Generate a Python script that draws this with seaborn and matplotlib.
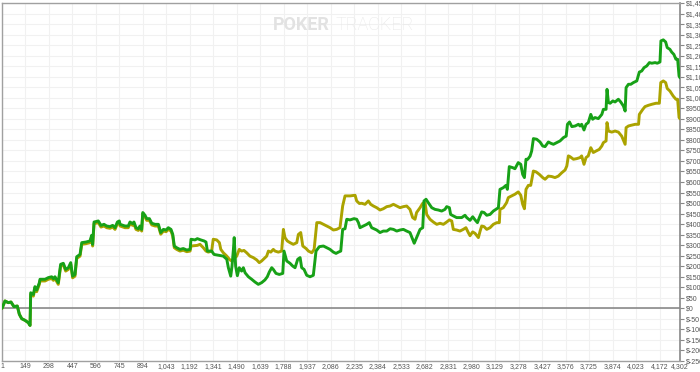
import matplotlib
matplotlib.use("Agg")
import matplotlib.pyplot as plt
import seaborn as sns
import pandas as pd

# ---------------- data ----------------
green_hands = [1, 20, 41, 58, 77, 98, 111, 126, 147, 168, 179,
               183, 200, 210, 221, 238, 242, 274, 295, 316, 327, 337, 358, 373, 390, 405,
               422, 437, 449, 464, 475, 496, 507, 534, 559, 570, 576, 585, 612, 629, 648,
               665, 686, 703, 718, 733, 745, 750, 781, 802, 813, 830, 838, 851, 866, 876,
               887, 894, 908, 919, 936, 951, 972, 993, 1008, 1025, 1042, 1056, 1073, 1084, 1094,
               1109, 1130, 1151, 1173, 1194,
               1200, 1225, 1240, 1262, 1283, 1295, 1304, 1331, 1346, 1374, 1405, 1427, 1437, 1452,
               1460, 1469, 1474, 1483, 1494, 1506, 1521, 1532, 1543, 1564, 1585, 1606, 1627, 1648,
               1669, 1684, 1697, 1712, 1722, 1739, 1760, 1782, 1790, 1807, 1828, 1845, 1860, 1877,
               1892, 1902, 1917, 1934, 1955, 1976, 1993, 2014, 2040, 2061, 2082, 2103, 2120, 2135,
               2150, 2162, 2177, 2188, 2209, 2234, 2251, 2262, 2272, 2293, 2315, 2331, 2346, 2361,
               2378, 2399, 2420, 2442, 2463, 2484, 2505, 2526, 2547, 2568, 2589, 2606, 2616, 2631,
               2653, 2670, 2678, 2691, 2705, 2727, 2748, 2769, 2790, 2811, 2822, 2839, 2847, 2864,
               2885, 2917, 2938, 2949, 2970, 2987, 3002, 3017, 3029, 3044, 3059, 3076, 3097, 3118,
               3140, 3150, 3160, 3181, 3198, 3207, 3219, 3241, 3255, 3276, 3292, 3304, 3315, 3325,
               3336, 3351, 3361, 3372, 3393, 3414, 3431, 3446, 3467, 3482, 3499, 3520, 3541, 3563,
               3580, 3588, 3601, 3616, 3637, 3658, 3668, 3678, 3693, 3706, 3720, 3736, 3748, 3763,
               3784, 3806, 3816, 3833, 3839, 3848, 3859, 3876, 3890, 3911, 3926, 3943, 3954, 3960,
               3975, 3990, 4006, 4028, 4044, 4059, 4074, 4091, 4108, 4123, 4144, 4158, 4175, 4181,
               4196, 4211, 4221, 4238, 4249, 4263, 4276, 4287, 4296, 4302]
green_won = [0, 35, 27, 30, 8, 11, -28, -49, -57, -68, -81,
             74, 66, 103, 87, 122, 138, 138, 146, 150, 141, 150, 122, 209, 214, 185,
             193, 217, 153, 161, 245, 256, 312, 315, 320, 347, 304, 410, 415, 394, 399,
             391, 388, 394, 383, 410, 415, 399, 391, 391, 410, 402, 410, 383, 378, 391,
             375, 455, 442, 426, 426, 404, 399, 399, 360, 375, 372, 383, 375, 352, 296,
             288, 280, 284, 277, 280,
             328, 325, 331, 325, 320, 315, 272, 272, 256, 252, 248, 233, 193, 153,
             200, 280, 336, 201, 155, 193, 177, 193, 169, 150, 138, 125, 114, 122,
             135, 150, 173, 193, 185, 166, 161, 166, 272, 225, 214, 201, 193, 233,
             241, 193, 185, 157, 150, 157, 272, 293, 296, 288, 280, 267, 261, 267,
             272, 375, 378, 423, 420, 426, 423, 407, 383, 391, 399, 407, 383, 378,
             372, 360, 367, 367, 378, 375, 367, 372, 375, 367, 360, 328, 309, 336,
             375, 383, 510, 518, 502, 478, 470, 467, 462, 470, 483, 478, 446, 439,
             431, 431, 442, 431, 418, 435, 420, 407, 431, 458, 455, 442, 446, 462,
             473, 478, 565, 573, 584, 565, 673, 668, 663, 692, 684, 636, 621, 708,
             708, 723, 747, 806, 803, 790, 771, 768, 790, 784, 779, 787, 795, 811,
             818, 874, 885, 863, 866, 874, 866, 874, 847, 874, 882, 921, 898, 906,
             901, 921, 945, 945, 1040, 977, 974, 985, 980, 993, 980, 961, 937, 1048,
             1064, 1064, 1072, 1080, 1122, 1127, 1143, 1151, 1167, 1164, 1167, 1164, 1170, 1270,
             1275, 1265, 1238, 1230, 1217, 1206, 1183, 1183, 1103, 1095]

olive_hands = [1, 20, 41, 58, 77, 98, 111, 126, 147, 168, 179,
               183, 200, 210, 221, 238, 242, 274, 295, 316, 327, 337, 358, 373, 390, 405,
               422, 437, 449, 464, 475, 496, 507, 534, 559, 570, 576, 585, 612, 629, 648,
               665, 686, 703, 718, 733, 745, 750, 781, 802, 813, 830, 838, 851, 866, 876,
               887, 894, 908, 919, 936, 951, 972, 993, 1008, 1025, 1042, 1056, 1073, 1084, 1094,
               1109, 1130, 1151, 1173, 1194,
               1200, 1240, 1257, 1278, 1295, 1310, 1331, 1341, 1363, 1380, 1389, 1405, 1427, 1447,
               1458, 1469, 1479, 1490, 1506, 1521, 1536, 1553, 1574, 1595, 1617, 1633, 1648, 1659,
               1680, 1691, 1706, 1722, 1733, 1754, 1775, 1786, 1796, 1811, 1828, 1849, 1871, 1881,
               1896, 1909, 1930, 1945, 1966, 1981, 1998, 2019, 2040, 2061, 2082, 2103, 2124, 2145,
               2162, 2177, 2209, 2241, 2251, 2268, 2283, 2304, 2325, 2340, 2357, 2378, 2399, 2420,
               2442, 2463, 2484, 2505, 2526, 2547, 2568, 2589, 2606, 2621, 2631, 2653, 2670, 2685,
               2695, 2716, 2737, 2759, 2780, 2801, 2822, 2839, 2854, 2864, 2885, 2906, 2927, 2944,
               2959, 2970, 2987, 3002, 3023, 3034, 3044, 3059, 3076, 3097, 3118, 3140, 3156, 3160,
               3181, 3202, 3213, 3234, 3255, 3276, 3292, 3304, 3315, 3325, 3340, 3355, 3372, 3389,
               3410, 3431, 3446, 3467, 3488, 3509, 3530, 3552, 3573, 3584, 3594, 3605, 3626, 3647,
               3668, 3678, 3693, 3706, 3720, 3736, 3752, 3769, 3790, 3806, 3816, 3833, 3839, 3848,
               3869, 3890, 3911, 3932, 3948, 3954, 3960, 3975, 3990, 4018, 4039, 4044, 4066, 4080,
               4101, 4123, 4150, 4171, 4180, 4196, 4211, 4221, 4238, 4259, 4276, 4287, 4296, 4302]
olive_won = [0, 35, 27, 30, 8, 11, -28, -49, -57, -68, -81,
             66, 58, 95, 79, 114, 130, 130, 138, 142, 133, 142, 114, 201, 206, 177,
             185, 209, 145, 153, 237, 248, 304, 307, 312, 339, 296, 402, 407, 386, 391,
             383, 380, 386, 375, 402, 407, 391, 383, 383, 402, 394, 402, 375, 370, 383,
             367, 447, 434, 418, 418, 396, 391, 391, 352, 367, 364, 375, 367, 344, 288,
             280, 272, 276, 269, 272,
             296, 299, 304, 288, 272, 267, 272, 328, 325, 312, 280, 264, 248, 230,
             225, 233, 241, 248, 280, 272, 275, 264, 248, 241, 230, 217, 225, 233,
             248, 272, 267, 280, 272, 267, 272, 375, 336, 320, 312, 304, 312, 351,
             360, 296, 284, 272, 264, 280, 407, 407, 399, 391, 383, 372, 375, 383,
             486, 534, 534, 537, 510, 498, 499, 494, 510, 494, 486, 478, 467, 473,
             483, 486, 494, 486, 478, 483, 486, 470, 431, 423, 455, 478, 499, 502,
             446, 423, 410, 399, 404, 399, 410, 420, 415, 375, 372, 367, 375, 383,
             360, 345, 363, 356, 336, 367, 391, 388, 375, 383, 399, 407, 407, 470,
             478, 502, 526, 534, 542, 553, 537, 494, 473, 565, 584, 584, 652, 648,
             636, 621, 613, 628, 626, 621, 628, 644, 657, 676, 724, 720, 708, 711,
             716, 724, 684, 716, 724, 763, 740, 747, 755, 771, 787, 795, 882, 842,
             837, 842, 837, 818, 790, 779, 858, 866, 869, 874, 874, 921, 945, 958,
             964, 969, 974, 974, 1072, 1080, 1072, 1044, 1032, 1008, 993, 993, 906, 900]

series_names = ["Net Won", "All-in EV"]
series_colors = ["#17a117", "#aba300"]

x_ticks = [1, 149, 298, 447, 596, 745, 894, 1043, 1192, 1341, 1490, 1639, 1788, 1937,
           2086, 2235, 2384, 2533, 2682, 2831, 2980, 3129, 3278, 3427, 3576, 3725,
           3874, 4023, 4172, 4302]
y_ticks = [-250, -200, -150, -100, -50, 0, 50, 100, 150, 200, 250, 300, 350, 400, 450,
           500, 550, 600, 650, 700, 750, 800, 850, 900, 950, 1000, 1050, 1100, 1150,
           1200, 1250, 1300, 1350, 1400, 1450]

# ---------------- build frame ----------------
df = pd.concat([
    pd.DataFrame({"hand": olive_hands, "won": olive_won, "series": series_names[1]}),
    pd.DataFrame({"hand": green_hands, "won": green_won, "series": series_names[0]}),
], ignore_index=True)

sns.set_style("white")
plt.rcParams["font.family"] = ["Liberation Sans", "DejaVu Sans"]

fig = plt.figure(figsize=(7.0, 3.72), dpi=100)
ax = fig.add_axes([2 / 700, 11 / 372, 678 / 700, 358 / 372])

ax.set_xlim(1, 4302)
ax.set_ylim(-250, 1450)

ax.set_xticks(x_ticks)
ax.set_xticklabels([f"{v:,}" for v in x_ticks])
ax.set_yticks(y_ticks)
ax.set_yticklabels([f"${v:,}" for v in y_ticks])
ax.yaxis.tick_right()

ax.grid(True, color="#f1f1f1", lw=0.8, zorder=0)
ax.set_axisbelow(True)
ax.axhline(0, color="#808080", lw=1.1, zorder=1)

sns.lineplot(data=df, x="hand", y="won", hue="series",
             hue_order=[series_names[1], series_names[0]],
             palette={series_names[0]: series_colors[0], series_names[1]: series_colors[1]},
             estimator=None, sort=False, lw=2.1, legend=False, ax=ax, zorder=3)

ax.set_xlabel("")
ax.set_ylabel("")

for side in ["left", "top", "bottom"]:
    ax.spines[side].set_color("#a0a0a0")
    ax.spines[side].set_linewidth(1.0)
ax.spines["right"].set_color("#888888")
ax.spines["right"].set_linewidth(1.2)

ax.tick_params(axis="x", length=0, pad=1.5, labelsize=5, labelcolor="#555555")
ax.tick_params(axis="y", right=True, left=False, length=3, width=0.8, color="#888888",
               pad=1, labelsize=5, labelcolor="#555555")

# watermark
fig.text(273 / 700, 1 - 25 / 372, "POKER", fontsize=13, fontweight="bold",
         color="#e2e2e2", ha="left", va="center", family=["Roboto", "DejaVu Sans"])
fig.text(336 / 700, 1 - 25 / 372, "TRACKER", fontsize=13, fontweight="light",
         color="#e8e8e8", ha="left", va="center", family=["Roboto", "DejaVu Sans"])

fig.savefig("out.png", dpi=100)
